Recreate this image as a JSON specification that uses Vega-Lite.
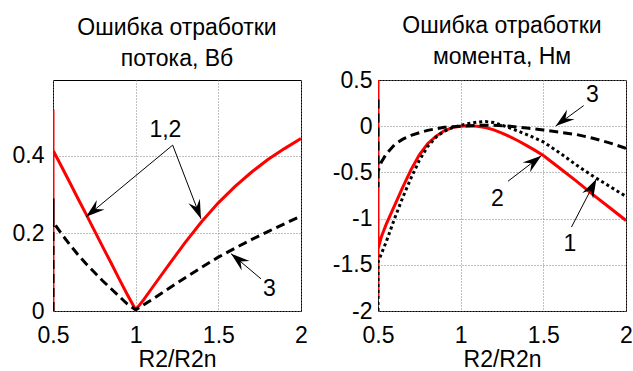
{
  "$schema": "https://vega.github.io/schema/vega-lite/v6.json",
  "padding": {"left": 11, "top": 14, "right": 0, "bottom": 0},
  "spacing": 23,
  "background": "white",
  "config": {
    "font": "Liberation Sans",
    "view": {"stroke": "black", "strokeWidth": 1},
    "axis": {
      "grid": true, "gridColor": "#808080", "gridDash": [1, 2], "gridWidth": 1,
      "domain": false, "ticks": false, "tickSize": 0,
      "labelFontSize": 23, "labelColor": "black", "labelFont": "Liberation Sans",
      "labelFlush": false, "labelOverlap": false,
      "titleFontSize": 23, "titleFontWeight": "normal", "titleColor": "black", "titleFont": "Liberation Sans",
      "titlePadding": 1
    },
    "axisX": {"labelPadding": 13},
    "title": {"fontSize": 23, "fontWeight": "normal", "font": "Liberation Sans", "lineHeight": 31.5, "color": "black"}
  },
  "datasets": {
    "curves": [
      {"p":"f","s":"12","i":0,"x":0.5,"y":0},
      {"p":"f","s":"12","i":1,"x":0.5,"y":0.52},
      {"p":"f","s":"12","i":2,"x":0.5,"y":0.415},
      {"p":"f","s":"12","i":3,"x":0.55,"y":0.374},
      {"p":"f","s":"12","i":4,"x":0.6,"y":0.333},
      {"p":"f","s":"12","i":5,"x":0.65,"y":0.291},
      {"p":"f","s":"12","i":6,"x":0.7,"y":0.25},
      {"p":"f","s":"12","i":7,"x":0.75,"y":0.208},
      {"p":"f","s":"12","i":8,"x":0.8,"y":0.166},
      {"p":"f","s":"12","i":9,"x":0.85,"y":0.125},
      {"p":"f","s":"12","i":10,"x":0.9,"y":0.083},
      {"p":"f","s":"12","i":11,"x":0.95,"y":0.042},
      {"p":"f","s":"12","i":12,"x":1.0,"y":0.003},
      {"p":"f","s":"12","i":13,"x":1.05,"y":0.03},
      {"p":"f","s":"12","i":14,"x":1.1,"y":0.06},
      {"p":"f","s":"12","i":15,"x":1.2,"y":0.119},
      {"p":"f","s":"12","i":16,"x":1.3,"y":0.177},
      {"p":"f","s":"12","i":17,"x":1.4,"y":0.231},
      {"p":"f","s":"12","i":18,"x":1.5,"y":0.279},
      {"p":"f","s":"12","i":19,"x":1.6,"y":0.321},
      {"p":"f","s":"12","i":20,"x":1.7,"y":0.358},
      {"p":"f","s":"12","i":21,"x":1.8,"y":0.391},
      {"p":"f","s":"12","i":22,"x":1.9,"y":0.419},
      {"p":"f","s":"12","i":23,"x":2.0,"y":0.445},
      {"p":"f","s":"3","i":0,"x":0.5,"y":0},
      {"p":"f","s":"3","i":1,"x":0.5,"y":0.29},
      {"p":"f","s":"3","i":2,"x":0.5,"y":0.23},
      {"p":"f","s":"3","i":3,"x":0.55,"y":0.2},
      {"p":"f","s":"3","i":4,"x":0.6,"y":0.172},
      {"p":"f","s":"3","i":5,"x":0.65,"y":0.146},
      {"p":"f","s":"3","i":6,"x":0.7,"y":0.122},
      {"p":"f","s":"3","i":7,"x":0.75,"y":0.1},
      {"p":"f","s":"3","i":8,"x":0.8,"y":0.078},
      {"p":"f","s":"3","i":9,"x":0.85,"y":0.058},
      {"p":"f","s":"3","i":10,"x":0.9,"y":0.038},
      {"p":"f","s":"3","i":11,"x":0.95,"y":0.018},
      {"p":"f","s":"3","i":12,"x":1.0,"y":0.003},
      {"p":"f","s":"3","i":13,"x":1.1,"y":0.03},
      {"p":"f","s":"3","i":14,"x":1.2,"y":0.058},
      {"p":"f","s":"3","i":15,"x":1.3,"y":0.086},
      {"p":"f","s":"3","i":16,"x":1.4,"y":0.113},
      {"p":"f","s":"3","i":17,"x":1.5,"y":0.139},
      {"p":"f","s":"3","i":18,"x":1.6,"y":0.162},
      {"p":"f","s":"3","i":19,"x":1.7,"y":0.184},
      {"p":"f","s":"3","i":20,"x":1.8,"y":0.205},
      {"p":"f","s":"3","i":21,"x":1.9,"y":0.225},
      {"p":"f","s":"3","i":22,"x":2.0,"y":0.245},
      {"p":"t","s":"1","i":0,"x":0.5,"y":0.5},
      {"p":"t","s":"1","i":1,"x":0.5,"y":-1.85},
      {"p":"t","s":"1","i":2,"x":0.5,"y":-1.33},
      {"p":"t","s":"1","i":3,"x":0.52,"y":-1.2},
      {"p":"t","s":"1","i":4,"x":0.55,"y":-1.06},
      {"p":"t","s":"1","i":5,"x":0.6,"y":-0.86},
      {"p":"t","s":"1","i":6,"x":0.65,"y":-0.66},
      {"p":"t","s":"1","i":7,"x":0.7,"y":-0.47},
      {"p":"t","s":"1","i":8,"x":0.75,"y":-0.31},
      {"p":"t","s":"1","i":9,"x":0.8,"y":-0.19},
      {"p":"t","s":"1","i":10,"x":0.85,"y":-0.11},
      {"p":"t","s":"1","i":11,"x":0.9,"y":-0.05},
      {"p":"t","s":"1","i":12,"x":0.95,"y":-0.015},
      {"p":"t","s":"1","i":13,"x":1.0,"y":0},
      {"p":"t","s":"1","i":14,"x":1.05,"y":0.005},
      {"p":"t","s":"1","i":15,"x":1.1,"y":0},
      {"p":"t","s":"1","i":16,"x":1.15,"y":-0.015},
      {"p":"t","s":"1","i":17,"x":1.2,"y":-0.04},
      {"p":"t","s":"1","i":18,"x":1.25,"y":-0.075},
      {"p":"t","s":"1","i":19,"x":1.3,"y":-0.115},
      {"p":"t","s":"1","i":20,"x":1.35,"y":-0.16},
      {"p":"t","s":"1","i":21,"x":1.4,"y":-0.21},
      {"p":"t","s":"1","i":22,"x":1.45,"y":-0.262},
      {"p":"t","s":"1","i":23,"x":1.5,"y":-0.318},
      {"p":"t","s":"1","i":24,"x":1.6,"y":-0.455},
      {"p":"t","s":"1","i":25,"x":1.7,"y":-0.595},
      {"p":"t","s":"1","i":26,"x":1.8,"y":-0.74},
      {"p":"t","s":"1","i":27,"x":1.9,"y":-0.88},
      {"p":"t","s":"1","i":28,"x":2.0,"y":-1.02},
      {"p":"t","s":"2","i":0,"x":0.5,"y":-2},
      {"p":"t","s":"2","i":1,"x":0.5,"y":-1.47},
      {"p":"t","s":"2","i":2,"x":0.55,"y":-1.25},
      {"p":"t","s":"2","i":3,"x":0.6,"y":-1.0},
      {"p":"t","s":"2","i":4,"x":0.65,"y":-0.77},
      {"p":"t","s":"2","i":5,"x":0.7,"y":-0.56},
      {"p":"t","s":"2","i":6,"x":0.75,"y":-0.37},
      {"p":"t","s":"2","i":7,"x":0.8,"y":-0.22},
      {"p":"t","s":"2","i":8,"x":0.85,"y":-0.12},
      {"p":"t","s":"2","i":9,"x":0.9,"y":-0.055},
      {"p":"t","s":"2","i":10,"x":0.95,"y":-0.015},
      {"p":"t","s":"2","i":11,"x":1.0,"y":0.01},
      {"p":"t","s":"2","i":12,"x":1.05,"y":0.03},
      {"p":"t","s":"2","i":13,"x":1.1,"y":0.045},
      {"p":"t","s":"2","i":14,"x":1.15,"y":0.05},
      {"p":"t","s":"2","i":15,"x":1.2,"y":0.04},
      {"p":"t","s":"2","i":16,"x":1.3,"y":-0.02},
      {"p":"t","s":"2","i":17,"x":1.4,"y":-0.09},
      {"p":"t","s":"2","i":18,"x":1.5,"y":-0.17},
      {"p":"t","s":"2","i":19,"x":1.6,"y":-0.29},
      {"p":"t","s":"2","i":20,"x":1.7,"y":-0.42},
      {"p":"t","s":"2","i":21,"x":1.8,"y":-0.54},
      {"p":"t","s":"2","i":22,"x":1.9,"y":-0.65},
      {"p":"t","s":"2","i":23,"x":2.0,"y":-0.76},
      {"p":"t","s":"3","i":0,"x":0.5,"y":0.29},
      {"p":"t","s":"3","i":1,"x":0.5,"y":-0.66},
      {"p":"t","s":"3","i":2,"x":0.5,"y":-0.49},
      {"p":"t","s":"3","i":3,"x":0.52,"y":-0.39},
      {"p":"t","s":"3","i":4,"x":0.55,"y":-0.3},
      {"p":"t","s":"3","i":5,"x":0.6,"y":-0.2},
      {"p":"t","s":"3","i":6,"x":0.65,"y":-0.14},
      {"p":"t","s":"3","i":7,"x":0.7,"y":-0.1},
      {"p":"t","s":"3","i":8,"x":0.75,"y":-0.07},
      {"p":"t","s":"3","i":9,"x":0.8,"y":-0.045},
      {"p":"t","s":"3","i":10,"x":0.9,"y":-0.012},
      {"p":"t","s":"3","i":11,"x":1.0,"y":0},
      {"p":"t","s":"3","i":12,"x":1.1,"y":0.01},
      {"p":"t","s":"3","i":13,"x":1.2,"y":0.01},
      {"p":"t","s":"3","i":14,"x":1.3,"y":0},
      {"p":"t","s":"3","i":15,"x":1.4,"y":-0.02},
      {"p":"t","s":"3","i":16,"x":1.5,"y":-0.04},
      {"p":"t","s":"3","i":17,"x":1.6,"y":-0.065},
      {"p":"t","s":"3","i":18,"x":1.7,"y":-0.09},
      {"p":"t","s":"3","i":19,"x":1.8,"y":-0.13},
      {"p":"t","s":"3","i":20,"x":1.9,"y":-0.18},
      {"p":"t","s":"3","i":21,"x":2.0,"y":-0.24}
    ],
    "arrows": [
      {"p":"f","id":"A","x":0.70,"y":0.243,"x2":1.224,"y2":0.428},
      {"p":"f","id":"B","x":1.395,"y":0.238,"x2":1.224,"y2":0.428},
      {"p":"f","id":"C","x":1.577,"y":0.148,"x2":1.758,"y2":0.083},
      {"p":"t","id":"A","x":1.575,"y":0.002,"x2":1.744,"y2":0.223},
      {"p":"t","id":"B","x":1.488,"y":-0.319,"x2":1.286,"y2":-0.596},
      {"p":"t","id":"C","x":1.821,"y":-0.571,"x2":1.670,"y2":-1.092}
    ],
    "labels": [
      {"p":"f","x":1.18,"y":0.468,"t":"1,2"},
      {"p":"f","x":1.809,"y":0.058,"t":"3"},
      {"p":"t","x":1.797,"y":0.336,"t":"3"},
      {"p":"t","x":1.222,"y":-0.787,"t":"2"},
      {"p":"t","x":1.66,"y":-1.272,"t":"1"}
    ]
  },
  "hconcat": [
    {
      "width": 248, "height": 231,
      "title": {"text": ["Ошибка отработки", "потока, Вб"], "offset": 9},
      "encoding": {
        "x": {"field": "x", "type": "quantitative", "title": "R2/R2n",
              "scale": {"domain": [0.5, 2], "nice": false, "zero": false},
              "axis": {"values": [0.5, 1, 1.5, 2], "format": "~g"}},
        "y": {"field": "y", "type": "quantitative", "title": null,
              "scale": {"domain": [0, 0.596], "nice": false, "zero": false},
              "axis": {"values": [0, 0.2, 0.4], "format": "~g", "labelPadding": 9}}
      },
      "layer": [
        {"data": {"name": "curves"}, "transform": [{"filter": "datum.p == 'f' && datum.s == '12'"}],
         "mark": {"type": "line", "color": "#ff0000", "strokeWidth": 3, "clip": true},
         "encoding": {"order": {"field": "i", "type": "quantitative"}}},
        {"data": {"name": "curves"}, "transform": [{"filter": "datum.p == 'f' && datum.s == '3'"}],
         "mark": {"type": "line", "color": "black", "strokeWidth": 3, "strokeDash": [9, 5], "clip": true},
         "encoding": {"order": {"field": "i", "type": "quantitative"}}},
        {"data": {"name": "arrows"}, "transform": [{"filter": "datum.p == 'f'"}],
         "mark": {"type": "rule", "color": "black", "strokeWidth": 1},
         "encoding": {"x2": {"field": "x2"}, "y2": {"field": "y2"}}},
        {"data": {"name": "arrows"}, "transform": [{"filter": "datum.p == 'f' && datum.id == 'A'"}],
         "mark": {"type": "point", "shape": "M0,0L0.55,1.7L0,1.1L-0.55,1.7Z", "filled": true, "color": "black", "opacity": 1, "size": 500, "angle": 230.4},
         "encoding": {}},
        {"data": {"name": "arrows"}, "transform": [{"filter": "datum.p == 'f' && datum.id == 'B'"}],
         "mark": {"type": "point", "shape": "M0,0L0.55,1.7L0,1.1L-0.55,1.7Z", "filled": true, "color": "black", "opacity": 1, "size": 500, "angle": 158.9},
         "encoding": {}},
        {"data": {"name": "arrows"}, "transform": [{"filter": "datum.p == 'f' && datum.id == 'C'"}],
         "mark": {"type": "point", "shape": "M0,0L0.55,1.7L0,1.1L-0.55,1.7Z", "filled": true, "color": "black", "opacity": 1, "size": 500, "angle": 309.8},
         "encoding": {}},
        {"data": {"name": "labels"}, "transform": [{"filter": "datum.p == 'f'"}],
         "mark": {"type": "text", "fontSize": 23, "color": "black", "align": "center", "baseline": "middle", "font": "Liberation Sans"},
         "encoding": {"text": {"field": "t"}}}
      ]
    },
    {
      "width": 248, "height": 231,
      "title": {"text": ["Ошибка отработки", "момента, Нм"], "offset": 0},
      "encoding": {
        "x": {"field": "x", "type": "quantitative", "title": "R2/R2n",
              "scale": {"domain": [0.5, 2], "nice": false, "zero": false},
              "axis": {"values": [0.5, 1, 1.5, 2], "format": "~g"}},
        "y": {"field": "y", "type": "quantitative", "title": null,
              "scale": {"domain": [-2, 0.5], "nice": false, "zero": false},
              "axis": {"values": [-2, -1.5, -1, -0.5, 0, 0.5], "format": "~g", "labelPadding": 6,
                       "labelExpr": "replace(datum.label, '\u2212', '-')"}}
      },
      "layer": [
        {"data": {"name": "curves"}, "transform": [{"filter": "datum.p == 't' && datum.s == '1'"}],
         "mark": {"type": "line", "color": "#ff0000", "strokeWidth": 3, "clip": true},
         "encoding": {"order": {"field": "i", "type": "quantitative"}}},
        {"data": {"name": "curves"}, "transform": [{"filter": "datum.p == 't' && datum.s == '2'"}],
         "mark": {"type": "line", "color": "black", "strokeWidth": 3, "strokeDash": [3, 3], "clip": true},
         "encoding": {"order": {"field": "i", "type": "quantitative"}}},
        {"data": {"name": "curves"}, "transform": [{"filter": "datum.p == 't' && datum.s == '3'"}],
         "mark": {"type": "line", "color": "black", "strokeWidth": 3, "strokeDash": [9, 5], "clip": true},
         "encoding": {"order": {"field": "i", "type": "quantitative"}}},
        {"data": {"name": "arrows"}, "transform": [{"filter": "datum.p == 't'"}],
         "mark": {"type": "rule", "color": "black", "strokeWidth": 1},
         "encoding": {"x2": {"field": "x2"}, "y2": {"field": "y2"}}},
        {"data": {"name": "arrows"}, "transform": [{"filter": "datum.p == 't' && datum.id == 'A'"}],
         "mark": {"type": "point", "shape": "M0,0L0.55,1.7L0,1.1L-0.55,1.7Z", "filled": true, "color": "black", "opacity": 1, "size": 500, "angle": 232.5},
         "encoding": {}},
        {"data": {"name": "arrows"}, "transform": [{"filter": "datum.p == 't' && datum.id == 'B'"}],
         "mark": {"type": "point", "shape": "M0,0L0.55,1.7L0,1.1L-0.55,1.7Z", "filled": true, "color": "black", "opacity": 1, "size": 500, "angle": 52.4},
         "encoding": {}},
        {"data": {"name": "arrows"}, "transform": [{"filter": "datum.p == 't' && datum.id == 'C'"}],
         "mark": {"type": "point", "shape": "M0,0L0.55,1.7L0,1.1L-0.55,1.7Z", "filled": true, "color": "black", "opacity": 1, "size": 500, "angle": 27.4},
         "encoding": {}},
        {"data": {"name": "labels"}, "transform": [{"filter": "datum.p == 't'"}],
         "mark": {"type": "text", "fontSize": 23, "color": "black", "align": "center", "baseline": "middle", "font": "Liberation Sans"},
         "encoding": {"text": {"field": "t"}}}
      ]
    }
  ]
}
